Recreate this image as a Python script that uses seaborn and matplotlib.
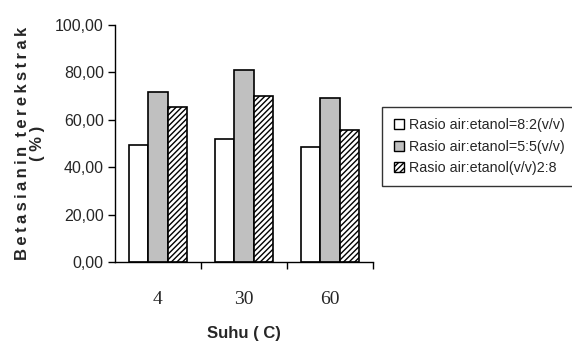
import matplotlib
matplotlib.use("Agg")
import matplotlib.pyplot as plt
import seaborn as sns
import pandas as pd
from matplotlib.ticker import FixedLocator, FuncFormatter
from matplotlib.patches import Patch

categories = ["4", "30", "60"]
series_names = ["Rasio air:etanol=8:2(v/v)", "Rasio air:etanol=5:5(v/v)", "Rasio air:etanol(v/v)2:8"]
values_82 = [49.4, 51.9, 48.6]
values_55 = [71.6, 81.0, 69.2]
values_28 = [65.4, 70.2, 55.7]

rows = []
for name, vals in zip(series_names, [values_82, values_55, values_28]):
    for c, v in zip(categories, vals):
        rows.append({"Suhu": c, "Seri": name, "Nilai": v})
df = pd.DataFrame(rows)

sns.set_theme(style="white")
plt.rcParams["font.family"] = ["Liberation Sans", "DejaVu Sans"]
plt.rcParams["hatch.linewidth"] = 1.0
fig = plt.figure(figsize=(5.72, 3.45), dpi=100)
ax = fig.add_axes([0.201, 0.2406, 0.451, 0.687])

colors = ["#ffffff", "#c0c0c0", "#ffffff"]
hatches = [None, None, "//////"]
sns.barplot(data=df, x="Suhu", y="Nilai", hue="Seri", order=categories,
            hue_order=series_names, palette=colors, width=0.67,
            edgecolor="black", linewidth=1.2, legend=False, ax=ax, errorbar=None)

for i, cont in enumerate(ax.containers):
    for p in cont:
        p.set_edgecolor("black")
        p.set_facecolor(colors[i])
        if hatches[i]:
            p.set_hatch(hatches[i])

ax.set_ylim(0, 100)
ax.set_xlim(-0.5, 2.5)
ax.set_yticks([0, 20, 40, 60, 80, 100])
ax.yaxis.set_major_formatter(FuncFormatter(lambda v, p: f"{v:.2f}".replace(".", ",")))
for lab in ax.get_yticklabels():
    lab.set_fontsize(11.5)

ax.set_xticks([0, 1, 2])
ax.set_xticklabels(categories, family="Liberation Serif", fontsize=14)
ax.tick_params(axis="x", which="major", length=0, pad=21)
ax.xaxis.set_minor_locator(FixedLocator([0.5, 1.5, 2.5]))
ax.tick_params(axis="x", which="minor", length=5, width=1, color="black", direction="out", bottom=True)
ax.tick_params(axis="y", which="major", length=5, width=1, color="black", direction="out", left=True, pad=3)

for s in ["top", "right"]:
    ax.spines[s].set_visible(False)
for s in ["left", "bottom"]:
    ax.spines[s].set_color("black")
    ax.spines[s].set_linewidth(1.0)

ax.set_xlabel("Suhu ( C)", fontweight="bold", fontsize=12, labelpad=13)
ylab = "\u2009".join("Betasianin") + "  " + "\u2009".join("terekstrak")
ax.set_ylabel(ylab + "\n( % )", fontweight="bold", fontsize=12, labelpad=7, linespacing=1.0)

handles = [Patch(facecolor=colors[i], edgecolor="black", hatch=hatches[i], label=series_names[i]) for i in range(3)]
leg = fig.legend(handles=handles, loc="upper left", bbox_to_anchor=(0.668, 0.69),
                 frameon=True, fancybox=False, edgecolor="black",
                 prop={"family": "Liberation Sans", "size": 10.3},
                 handlelength=0.7, handleheight=0.7, handletextpad=0.35,
                 labelspacing=0.5, borderpad=0.8, borderaxespad=0)
leg.get_frame().set_linewidth(1.0)

fig.savefig("out.png", dpi=100)
